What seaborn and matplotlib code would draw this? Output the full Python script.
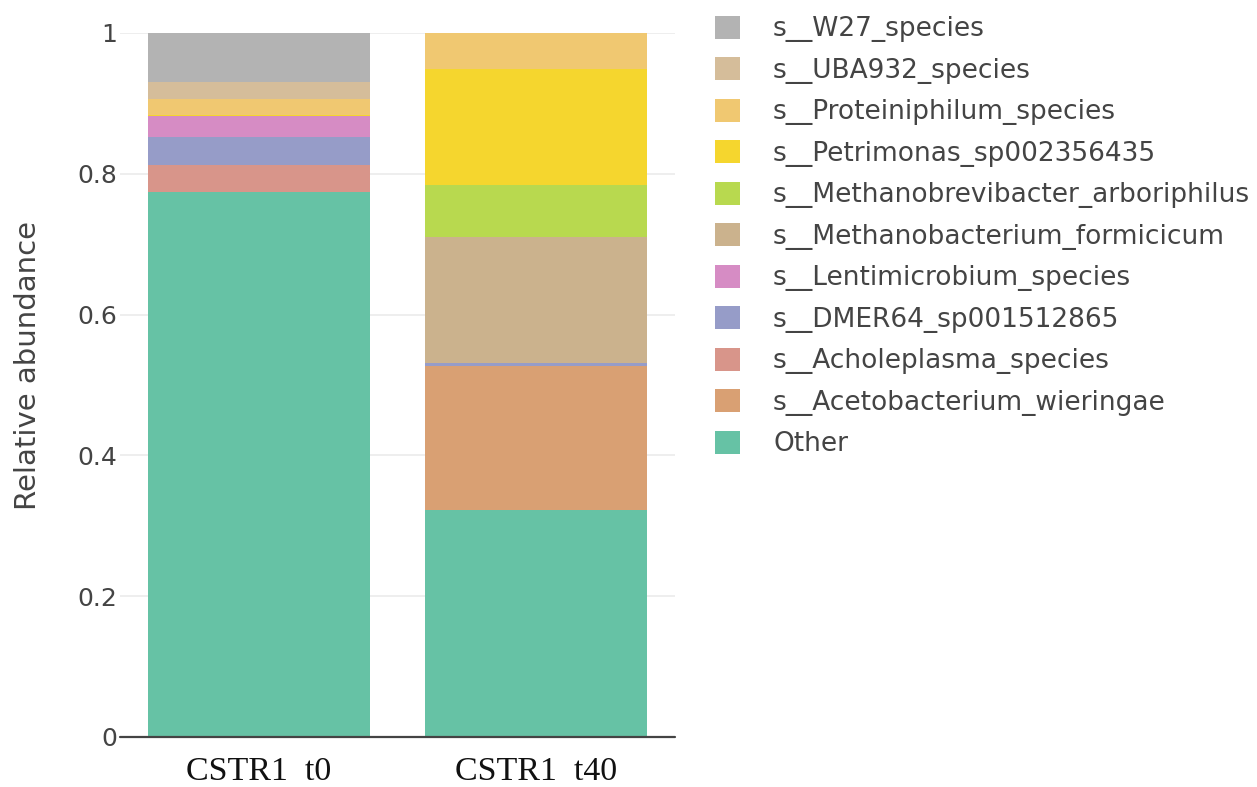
import numpy as np
import pandas as pd
import matplotlib
matplotlib.use("Agg")
import matplotlib.pyplot as plt
import seaborn as sns
from matplotlib.patches import Patch

# Samples on the x axis
samples = ["CSTR1  t0", "CSTR1  t40"]

# Taxa, listed from the bottom of each stack to the top
taxa = [
    "Other",
    "s__Acetobacterium_wieringae",
    "s__Acholeplasma_species",
    "s__DMER64_sp001512865",
    "s__Lentimicrobium_species",
    "s__Methanobacterium_formicicum",
    "s__Methanobrevibacter_arboriphilus",
    "s__Petrimonas_sp002356435",
    "s__Proteiniphilum_species",
    "s__UBA932_species",
    "s__W27_species",
]

# Relative abundance per taxon (same order as taxa)
t0_values = [0.7735, 0.0, 0.0383, 0.0398, 0.0304, 0.0, 0.0, 0.0020, 0.0220, 0.0238, 0.0702]
t40_values = [0.3228, 0.2047, 0.0, 0.0038, 0.0, 0.1796, 0.0725, 0.1654, 0.0512, 0.0, 0.0]

colors = [
    "#66c2a5", "#d9a073", "#d8958a", "#969cc8", "#d68cc4", "#cbb28d",
    "#b8d94f", "#f5d62e", "#f0c871", "#d5bd9a", "#b3b3b3",
]

df = pd.DataFrame({"taxon": taxa, samples[0]: t0_values, samples[1]: t40_values})
cum = df[samples].cumsum()

sns.set_style("white")
plt.rcParams["font.family"] = ["DejaVu Sans"]

W, H = 1257, 787
fig = plt.figure(figsize=(W / 100, H / 100), dpi=100)
ax = fig.add_axes([120 / W, 1 - 737 / H, 555 / W, 704 / H])

# Stacked bars: draw cumulative totals from the top layer down
for i in range(len(taxa) - 1, -1, -1):
    long = pd.DataFrame({"sample": samples, "top": cum.iloc[i].values})
    sns.barplot(data=long, x="sample", y="top", order=samples, color=colors[i],
                saturation=1, width=0.8, linewidth=0, ax=ax, zorder=2)

ax.set_xlim(-0.5, 1.5)
ax.set_ylim(0, 1)
yt = [0, 0.2, 0.4, 0.6, 0.8, 1.0]
ax.set_yticks(yt)
ax.set_yticklabels(["0", "0.2", "0.4", "0.6", "0.8", "1"], color="#444444", fontsize=18)
ax.tick_params(axis="y", length=0, pad=2)
ax.tick_params(axis="x", length=0, pad=14)
for lab in ax.get_xticklabels():
    lab.set_family("Liberation Serif")
    lab.set_fontsize(24.5)
    lab.set_color("#111111")

for y in yt[1:]:
    ax.axhline(y, color="#ebebeb", lw=1.2, zorder=0)
ax.axhline(0, color="#444444", lw=1.6, zorder=3, clip_on=False)

for s in ax.spines.values():
    s.set_visible(False)

ax.set_xlabel("")
ax.set_ylabel("Relative abundance", fontsize=21, color="#444444")
ax.yaxis.set_label_coords((42 - 120) / 555, (737 - 366) / 704)

# Legend, top taxon first
handles = [Patch(facecolor=colors[i], edgecolor="none", label=taxa[i])
           for i in range(len(taxa) - 1, -1, -1)]
fig.legend(handles=handles, loc="upper left", bbox_to_anchor=(715 / W, 1 - 16 / H),
           frameon=False, fontsize=19, labelcolor="#444444",
           handlelength=0.95, handleheight=0.95, handletextpad=1.25,
           labelspacing=0.57, borderaxespad=0, borderpad=0)

fig.savefig("out.png", dpi=100)
